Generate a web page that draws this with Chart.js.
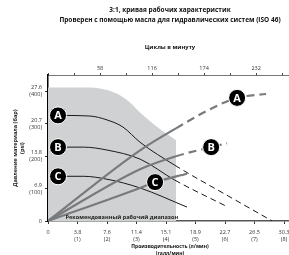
<!DOCTYPE html>
<html>
<head>
<meta charset="utf-8">
<script src="https://cdn.jsdelivr.net/npm/chart.js@4.4.1/dist/chart.umd.min.js"></script>
<style>
html, body { margin: 0; padding: 0; overflow: hidden; background: #fff; }
#wrap { position: absolute; left: 0; top: 0; width: 292px; height: 262px; }
</style>
</head>
<body>
<div id="wrap"><canvas id="chart"></canvas></div>
<script>
const titleLines = ['3:1, кривая рабочих характеристик', 'Проверен с помощью масла для гидравлических систем (ISO 46)'];
const topAxisTitle = 'Циклы в минуту';
const yAxisTitle = ['Давление материала (бар)', '(psi)'];
const xAxisTitle = ['Производительность (л/мин)', '(галл/мин)'];
const rangeCaption = 'Рекомендованный рабочий диапазон';

// tick labels
const xTickLpm = ['0', '3.8', '7.6', '11.4', '15.1', '18.9', '22.7', '26.5', '30.3'];
const xTickGpm = ['', '(1)', '(2)', '(3)', '(4)', '(5)', '(6)', '(7)', '(8)'];
const yTickBar = ['0', '6.9', '13.8', '20.7', '27.6'];
const yTickPsi = ['', '(100)', '(200)', '(300)', '(400)'];
const cpmLabels = [58, 116, 174, 232];

// recommended range (grey area), gpm / psi
const rangeGpm = [0, 1.42, 2.0, 2.44, 2.78, 3.12, 3.7, 4.34];
const rangePsi = [412, 412, 404, 388, 366, 335, 290, 249];

// fluid outlet pressure curves (black)
const outAGpm = [0.34, 1.42, 2.0, 2.54, 3.12, 4.3, 6.17, 7.6];
const outAPsi = [326, 324, 312, 290, 243, 172, 74, 0];
const outBGpm = [0.34, 1.2, 2.0, 3.12, 4.3, 6.1];
const outBPsi = [228, 228, 219, 191, 126, 43];
const outCGpm = [0.34, 1.2, 2.0, 3.12, 4.71];
const outCPsi = [138, 138, 129, 102, 43];

// air consumption curves (grey)
const airAGpm = [0, 3.12, 4.34, 5.49, 6.41, 7.39];
const airAPsi = [0, 218, 286, 345, 380, 392];
const airBGpm = [0, 3.12, 4.34, 5.53, 6.07];
const airBPsi = [0, 160, 200, 228, 240];
const airCGpm = [0, 3.12, 3.63, 4.71];
const airCPsi = [0, 102, 120, 146];

// circle markers
const markLetters = ['A', 'B', 'C', 'A', 'B', 'C'];
const markGpm = [0.34, 0.34, 0.34, 6.41, 5.53, 3.63];
const markPsi = [326, 228, 138, 380, 228, 120];

const rangeEnd = 4.3;
const captionGpm = 2.5;
const captionPsi = 12;

const FONT = '"Open Sans", "DejaVu Sans", sans-serif';

function pts(xs, ys) {
    return xs.map((v, i) => ({ x: v, y: ys[i] }));
}

function dashOutside(pattern) {
    return ctx => ctx.p0.parsed.x >= rangeEnd ? pattern : undefined;
}

function blackLine(xs, ys) {
    return {
        data: pts(xs, ys),
        borderColor: '#1a1a1a',
        borderWidth: 1,
        pointRadius: 0,
        fill: false,
        cubicInterpolationMode: 'monotone',
        segment: { borderDash: dashOutside([6, 4]) },
        order: 2
    };
}

function greyLine(xs, ys) {
    return {
        data: pts(xs, ys),
        borderColor: '#787b7d',
        borderWidth: 2.2,
        pointRadius: 0,
        fill: false,
        cubicInterpolationMode: 'monotone',
        segment: { borderDash: dashOutside([8, 5]) },
        order: 1
    };
}

const markerPlugin = {
    id: 'markers',
    afterDatasetsDraw(chart) {
        const { ctx, scales: { x, y } } = chart;
        ctx.save();
        ctx.textAlign = 'center';
        ctx.textBaseline = 'middle';
        ctx.font = 'bold 5.6px ' + FONT;
        ctx.fillStyle = '#222';
        ctx.fillText(rangeCaption, x.getPixelForValue(captionGpm), y.getPixelForValue(captionPsi));
        markLetters.forEach((t, i) => {
            const px = x.getPixelForValue(markGpm[i]);
            const py = y.getPixelForValue(markPsi[i]);
            ctx.beginPath();
            ctx.arc(px, py, 8.5, 0, Math.PI * 2);
            ctx.fillStyle = '#000';
            ctx.fill();
            ctx.lineWidth = 1;
            ctx.strokeStyle = '#fff';
            ctx.stroke();
            ctx.fillStyle = '#fff';
            ctx.font = 'bold 11px ' + FONT;
            ctx.fillText(t, px, py + 0.5);
        });
        ctx.restore();
    }
};

const tickFont = { family: FONT, size: 5.5, lineHeight: 1.27 };

new Chart(document.getElementById('chart'), {
    type: 'line',
    data: {
        datasets: [
            {
                data: pts(rangeGpm, rangePsi),
                borderWidth: 0,
                borderColor: 'rgba(0,0,0,0)',
                backgroundColor: '#cfd1d2',
                pointRadius: 0,
                fill: 'origin',
                cubicInterpolationMode: 'monotone',
                order: 10
            },
            blackLine(outAGpm, outAPsi),
            blackLine(outBGpm, outBPsi),
            blackLine(outCGpm, outCPsi),
            greyLine(airAGpm, airAPsi),
            greyLine(airBGpm, airBPsi),
            greyLine(airCGpm, airCPsi)
        ]
    },
    options: {
        responsive: true,
        maintainAspectRatio: false,
        animation: false,
        devicePixelRatio: 1,
        plugins: {
            legend: { display: false },
            tooltip: { enabled: false },
            title: {
                display: true,
                text: titleLines,
                fullSize: false,
                color: '#111',
                font: { family: FONT, size: 6.5, weight: 'bold', lineHeight: 1.4 },
                padding: { top: 6, bottom: 0 }
            }
        },
        scales: {
            x: {
                type: 'linear',
                position: 'bottom',
                min: 0,
                max: 8.27,
                afterFit: s => { s.height = 41; s.paddingRight = 0; s.paddingLeft = 0; },
                border: { color: '#555', width: 1.5 },
                grid: { drawOnChartArea: false, tickLength: 3, color: '#333' },
                ticks: {
                    stepSize: 1,
                    includeBounds: false,
                    maxRotation: 0,
                    autoSkip: false,
                    padding: 5,
                    color: '#333',
                    font: tickFont,
                    callback: v => v === 0 ? xTickLpm[0] : [xTickLpm[v], xTickGpm[v]]
                },
                title: {
                    display: true,
                    text: xAxisTitle,
                    color: '#111',
                    font: { family: FONT, size: 5, weight: 'bold', lineHeight: 1.4 },
                    padding: { top: 0, bottom: 4.5 }
                }
            },
            x2: {
                type: 'linear',
                axis: 'x',
                position: 'top',
                min: 0,
                max: 272,
                afterFit: s => { s.height = 51; s.paddingRight = 0; s.paddingLeft = 0; },
                border: { color: '#777', width: 1 },
                grid: { drawOnChartArea: false, tickLength: 2, color: '#333' },
                ticks: {
                    stepSize: 29,
                    includeBounds: false,
                    maxRotation: 0,
                    autoSkip: false,
                    padding: 1,
                    color: '#333',
                    font: tickFont,
                    callback: v => cpmLabels.includes(v) ? String(v) : ''
                },
                title: {
                    display: true,
                    text: topAxisTitle,
                    color: '#111',
                    font: { family: FONT, size: 5.8, weight: 'bold', lineHeight: 1.2 },
                    padding: { top: 19.5, bottom: 0 }
                }
            },
            y: {
                type: 'linear',
                min: 0,
                max: 450,
                afterFit: s => { s.width = 48; },
                border: { color: '#000', width: 1.5 },
                grid: { drawOnChartArea: false, tickLength: 3, color: '#333' },
                ticks: {
                    stepSize: 100,
                    includeBounds: false,
                    padding: 3,
                    color: '#333',
                    font: tickFont,
                    callback: v => v === 0 ? yTickBar[0] : [yTickBar[v / 100], yTickPsi[v / 100]]
                },
                title: {
                    display: true,
                    text: yAxisTitle,
                    color: '#222',
                    font: { family: FONT, size: 5.5, weight: 'bold', lineHeight: 1.27 },
                    padding: { top: 11.5, bottom: 0 }
                }
            }
        }
    },
    plugins: [markerPlugin]
});
</script>
</body>
</html>
